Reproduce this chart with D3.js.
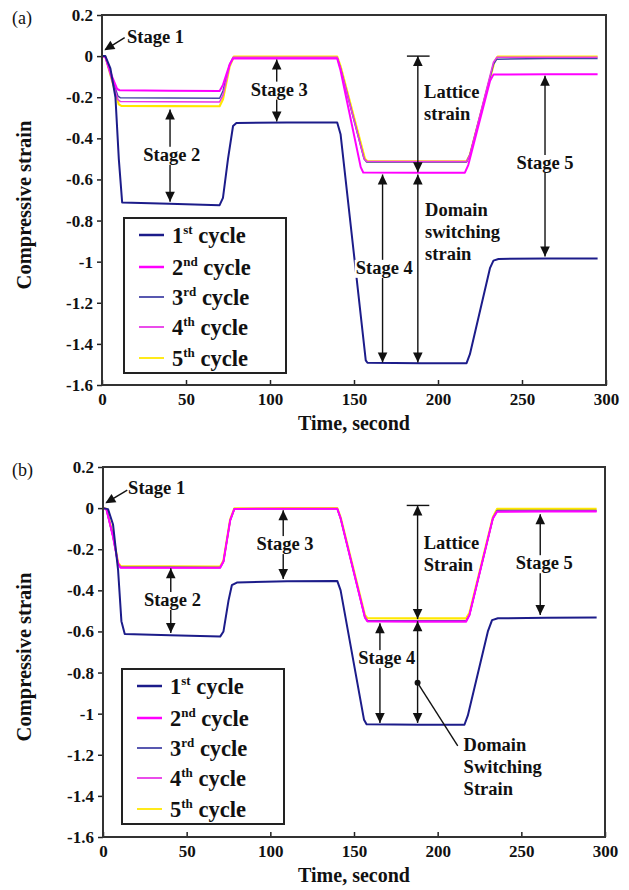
<!DOCTYPE html>
<html><head><meta charset="utf-8">
<script src="https://cdn.jsdelivr.net/npm/d3@7"></script>
<style>
body{margin:0;background:#fff}
svg{display:block}
text{font-family:"Liberation Serif","Times New Roman",serif;font-weight:bold;fill:#111}
</style>
</head><body>
<svg id="c" width="629" height="890"></svg>
<script>
// ---------- data ----------
const cycleNames = ["1", "2", "3", "4", "5"];
const cycleSups = ["st", "nd", "rd", "th", "th"];
const yTicks = [0.2, 0, -0.2, -0.4, -0.6, -0.8, -1, -1.2, -1.4, -1.6];
const yTickLabels = ["0.2", "0", "-0.2", "-0.4", "-0.6", "-0.8", "-1", "-1.2", "-1.4", "-1.6"];
const xTicks = [0, 50, 100, 150, 200, 250, 300];
const xTickLabels = ["0", "50", "100", "150", "200", "250", "300"];

// panel (a)
const timeA1 = [0, 2, 5, 8, 10, 12, 40, 70, 72, 75, 78, 80, 110, 140, 142, 157, 158, 190, 217, 219, 231, 233, 236, 265, 295];
const strainA1 = [0, 0, -0.06, -0.2, -0.5, -0.712, -0.718, -0.725, -0.69, -0.5, -0.34, -0.325, -0.323, -0.323, -0.38, -1.48, -1.492, -1.494, -1.494, -1.45, -1.03, -0.995, -0.987, -0.984, -0.984];
const timeA2 = [0, 2, 6, 9, 10.5, 40, 70, 72, 76, 78, 110, 140, 142, 154, 155.5, 190, 216, 218, 231, 233, 265, 295];
const strainA2 = [0, -0.005, -0.1, -0.16, -0.166, -0.168, -0.17, -0.14, -0.04, -0.012, -0.012, -0.012, -0.07, -0.54, -0.566, -0.567, -0.567, -0.53, -0.12, -0.09, -0.088, -0.088];
const timeA3 = [0, 2, 6, 9.5, 11, 40, 70, 72, 76, 78, 110, 140, 142, 156, 157.5, 190, 217, 219, 233, 235, 265, 295];
const strainA3 = [0, -0.005, -0.11, -0.195, -0.203, -0.204, -0.205, -0.17, -0.04, -0.008, -0.008, -0.008, -0.06, -0.5, -0.515, -0.515, -0.515, -0.48, -0.04, -0.015, -0.012, -0.012];
const timeA4 = [0, 2, 6, 9.5, 11, 40, 70, 72, 76, 78, 110, 140, 142, 156, 157.5, 190, 217, 219, 233, 235, 265, 295];
const strainA4 = [0, -0.005, -0.12, -0.212, -0.221, -0.222, -0.223, -0.19, -0.045, -0.006, -0.006, -0.006, -0.06, -0.5, -0.512, -0.513, -0.513, -0.48, -0.03, -0.006, -0.005, -0.005];
const timeA5 = [0, 2, 6, 10, 11.5, 40, 70, 72, 76, 78.5, 110, 140, 142, 156.5, 158, 190, 217, 219, 233.5, 235.5, 265, 295];
const strainA5 = [0, -0.002, -0.12, -0.235, -0.242, -0.243, -0.244, -0.21, -0.05, -0.002, -0.002, -0.002, -0.05, -0.5, -0.512, -0.512, -0.512, -0.48, -0.03, -0.002, -0.002, -0.002];

// panel (b)
const timeB1 = [0, 3, 6, 9, 11, 13, 40, 70, 72, 75, 77, 80, 110, 140, 142, 156, 157.5, 190, 216, 218, 230, 232.5, 236, 265, 295];
const strainB1 = [0, -0.005, -0.08, -0.3, -0.55, -0.612, -0.618, -0.625, -0.6, -0.45, -0.375, -0.362, -0.356, -0.354, -0.4, -1.03, -1.052, -1.054, -1.054, -1.01, -0.6, -0.545, -0.536, -0.533, -0.532];
const timeB2 = [0, 2, 6, 9, 10.5, 40, 70, 72, 76, 78.5, 110, 140, 142, 156.5, 158, 190, 217, 219, 233, 235.5, 265, 295];
const strainB2 = [0, -0.005, -0.14, -0.27, -0.29, -0.29, -0.29, -0.26, -0.06, -0.004, -0.003, -0.003, -0.05, -0.53, -0.55, -0.552, -0.552, -0.52, -0.05, -0.018, -0.017, -0.017];
const timeB3 = [0, 2, 6, 9, 10.5, 40, 70, 72, 76, 78.5, 110, 140, 142, 156.5, 158, 190, 217, 219, 233, 235.5, 265, 295];
const strainB3 = [0, -0.005, -0.14, -0.27, -0.287, -0.288, -0.289, -0.26, -0.06, -0.004, -0.003, -0.003, -0.05, -0.53, -0.547, -0.548, -0.548, -0.52, -0.05, -0.012, -0.012, -0.012];
const timeB4 = [0, 2, 6, 9, 10.5, 40, 70, 72, 76, 78.5, 110, 140, 142, 156.5, 158, 190, 217, 219, 233, 235.5, 265, 295];
const strainB4 = [0, -0.005, -0.14, -0.27, -0.289, -0.29, -0.29, -0.26, -0.06, -0.004, -0.003, -0.003, -0.05, -0.535, -0.552, -0.553, -0.553, -0.52, -0.05, -0.016, -0.015, -0.015];
const timeB5 = [0, 2, 6, 9, 10.5, 40, 70, 72, 76, 78.5, 110, 140, 142, 156.5, 158, 190, 217, 219, 233, 235.5, 265, 295];
const strainB5 = [0, -0.003, -0.13, -0.265, -0.282, -0.283, -0.284, -0.255, -0.055, -0.001, 0, 0, -0.045, -0.52, -0.535, -0.536, -0.536, -0.51, -0.045, -0.004, -0.004, -0.004];

// ---------- styling ----------
const cycleColors = ["#1c1c8a", "#ff00ff", "#4646a8", "#e838e8", "#ffe800"];
const cycleWidths = [2, 2, 1.5, 1.5, 2.2];
const drawOrder = [4, 2, 3, 1, 0];

const svg = d3.select("#c");

function panel(cfg) {
  const x = d3.scaleLinear().domain([0, 300]).range([cfg.left, cfg.right]);
  const y = d3.scaleLinear().domain([-1.6, 0.2]).range([cfg.bottom, cfg.top]);
  const g = svg.append("g");

  // axes
  const ya = g.append("g").attr("transform", `translate(${cfg.left},0)`)
    .call(d3.axisLeft(y).tickValues(yTicks).tickFormat((d, i) => yTickLabels[i]).tickSize(5).tickPadding(4));
  const xa = g.append("g").attr("transform", `translate(0,${cfg.bottom})`)
    .call(d3.axisBottom(x).tickValues(xTicks).tickFormat((d, i) => xTickLabels[i]).tickSize(-5).tickPadding(8));
  [ya, xa].forEach(a => {
    a.select(".domain").remove();
    a.selectAll(".tick line").attr("stroke", "#222").attr("stroke-width", 1.5);
    a.selectAll(".tick text").style("font-size", "17px").style("font-family", "'Liberation Serif',serif")
      .style("font-weight", "bold").attr("fill", "#111");
  });

  // series
  drawOrder.forEach(i => {
    const pts = d3.zip(cfg.times[i], cfg.strains[i]);
    g.append("path").datum(pts)
      .attr("fill", "none").attr("stroke", cycleColors[i]).attr("stroke-width", cycleWidths[i])
      .attr("stroke-linejoin", "round")
      .attr("d", d3.line().x(d => x(d[0])).y(d => y(d[1])));
  });

  // frame
  g.append("rect").attr("x", cfg.left).attr("y", cfg.top)
    .attr("width", cfg.right - cfg.left).attr("height", cfg.bottom - cfg.top)
    .attr("fill", "none").attr("stroke", "#333").attr("stroke-width", 2);

  // axis titles
  g.append("text").attr("x", (cfg.left + cfg.right) / 2).attr("y", cfg.bottom + 45)
    .attr("text-anchor", "middle").style("font-size", "20px").text("Time, second");
  g.append("text").attr("transform", `translate(31,${(cfg.top + cfg.bottom) / 2 + 5}) rotate(-90)`)
    .attr("text-anchor", "middle").style("font-size", "20.5px").text("Compressive strain");
  g.append("text").attr("x", 12).attr("y", cfg.top + 9)
    .style("font-size", "18px").style("font-weight", "normal").text(cfg.label);

  // legend
  const lg = g.append("g");
  lg.append("rect").attr("x", cfg.legend[0]).attr("y", cfg.legend[1]).attr("width", 162).attr("height", 155)
    .attr("fill", "#fff").attr("stroke", "#222").attr("stroke-width", 2);
  const rowOff = [17, 49, 79, 109, 140];
  cycleNames.forEach((n, i) => {
    const cy = cfg.legend[1] + rowOff[i];
    lg.append("line").attr("x1", cfg.legend[0] + 15).attr("x2", cfg.legend[0] + 40)
      .attr("y1", cy).attr("y2", cy).attr("stroke", cycleColors[i]).attr("stroke-width", i < 2 ? 2.5 : 1.8);
    const t = lg.append("text").attr("x", cfg.legend[0] + 48).attr("y", cy + 8).style("font-size", "22.5px");
    t.append("tspan").text(n);
    t.append("tspan").attr("dy", -9).style("font-size", "13px").text(cycleSups[i]);
    t.append("tspan").attr("dy", 9).text(" cycle");
  });

  // annotation helpers
  const an = g.append("g");
  function head(px, py, ang) {
    const L = 10, W = 4.8;
    const bx = px - L * Math.cos(ang), by = py - L * Math.sin(ang);
    const nx = -Math.sin(ang), ny = Math.cos(ang);
    an.append("path").attr("d", `M${px},${py}L${bx + W * nx},${by + W * ny}L${bx - W * nx},${by - W * ny}Z`).attr("fill", "#111");
  }
  function vArrow(t, s1, s2, up, down) {
    an.append("line").attr("x1", x(t)).attr("x2", x(t)).attr("y1", y(s1)).attr("y2", y(s2))
      .attr("stroke", "#111").attr("stroke-width", 1.4);
    if (up) head(x(t), y(s1), -Math.PI / 2);
    if (down) head(x(t), y(s2), Math.PI / 2);
  }
  function label(lines, t, s, anchor, bg, gap) {
    lines.forEach((ln, k) => {
      const tx = an.append("text").attr("x", x(t)).attr("y", y(s) + 6 + k * (gap || 22))
        .attr("text-anchor", anchor).style("font-size", "18.5px").text(ln);
      if (bg) {
        const b = tx.node().getBBox();
        an.insert("rect", () => tx.node()).attr("x", b.x - 1).attr("y", b.y + 2)
          .attr("width", b.width + 2).attr("height", b.height - 2).attr("fill", "#fff");
      }
    });
  }
  cfg.annotate(x, y, vArrow, label, head, an);
}

panel({
  label: "(a)", left: 102, right: 606, top: 15, bottom: 385, legend: [124, 218],
  times: [timeA1, timeA2, timeA3, timeA4, timeA5],
  strains: [strainA1, strainA2, strainA3, strainA4, strainA5],
  annotate: (x, y, vArrow, label, head, an) => {
    // Stage 1
    an.append("line").attr("x1", x(13.5)).attr("y1", y(0.09)).attr("x2", x(2)).attr("y2", y(0.032))
      .attr("stroke", "#111").attr("stroke-width", 1.4);
    head(x(1.4), y(0.029), Math.atan2(y(0.029) - y(0.09), x(1.4) - x(13.5)));
    label(["Stage 1"], 14.9, 0.095, "start");
    vArrow(40.5, -0.26, -0.708, true, true);
    label(["Stage 2"], 41.5, -0.48, "middle", true);
    vArrow(104, -0.017, -0.318, true, true);
    label(["Stage 3"], 105.5, -0.163, "middle", true);
    // Lattice strain
    an.append("line").attr("x1", x(181.5)).attr("x2", x(195)).attr("y1", y(0)).attr("y2", y(0))
      .attr("stroke", "#111").attr("stroke-width", 1.4);
    vArrow(188, 0, -0.565, true, true);
    label(["Lattice", "strain"], 191.7, -0.173, "start");
    vArrow(188, -0.576, -1.49, true, true);
    label(["Domain", "switching", "strain"], 192.3, -0.75, "start");
    vArrow(167, -0.576, -1.49, true, true);
    label(["Stage 4"], 168, -1.03, "middle", true);
    vArrow(263.7, -0.095, -0.975, true, true);
    label(["Stage 5"], 263.7, -0.52, "middle", true);
  }
});

panel({
  label: "(b)", left: 103, right: 605, top: 467, bottom: 837, legend: [122, 669],
  times: [timeB1, timeB2, timeB3, timeB4, timeB5],
  strains: [strainB1, strainB2, strainB3, strainB4, strainB5],
  annotate: (x, y, vArrow, label, head, an) => {
    an.append("line").attr("x1", x(14.5)).attr("y1", y(0.087)).attr("x2", x(2)).attr("y2", y(0.027))
      .attr("stroke", "#111").attr("stroke-width", 1.4);
    head(x(1.4), y(0.024), Math.atan2(y(0.024) - y(0.087), x(1.4) - x(14.5)));
    label(["Stage 1"], 15, 0.097, "start");
    vArrow(40.5, -0.292, -0.608, true, true);
    label(["Stage 2"], 41.5, -0.447, "middle", true);
    vArrow(107.7, -0.01, -0.345, true, true);
    label(["Stage 3"], 108.8, -0.175, "middle", true);
    an.append("line").attr("x1", x(181.5)).attr("x2", x(195)).attr("y1", y(0.013)).attr("y2", y(0.013))
      .attr("stroke", "#111").attr("stroke-width", 1.4);
    vArrow(188, 0.013, -0.54, true, true);
    label(["Lattice", "Strain"], 191.7, -0.17, "start");
    vArrow(261.3, -0.03, -0.52, true, true);
    label(["Stage 5"], 263.7, -0.268, "middle", true);
    vArrow(165.5, -0.56, -1.045, true, true);
    label(["Stage 4"], 169.6, -0.73, "middle", true);
    vArrow(188, -0.55, -1.045, true, true);
    an.append("circle").attr("cx", x(188)).attr("cy", y(-0.85)).attr("r", 3).attr("fill", "#111");
    an.append("line").attr("x1", x(188)).attr("y1", y(-0.85)).attr("x2", x(212)).attr("y2", y(-1.157))
      .attr("stroke", "#111").attr("stroke-width", 1.4);
    label(["Domain", "Switching", "Strain"], 215.5, -1.153, "start");
  }
});
</script>
</body></html>
